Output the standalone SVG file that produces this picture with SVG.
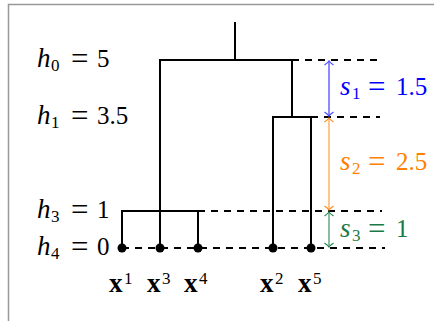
<svg xmlns="http://www.w3.org/2000/svg" width="434" height="321" viewBox="0 0 434 321">
<style>
.t{font-family:"Liberation Serif","DejaVu Serif",serif;font-size:25px;fill:#000}
.it{font-style:italic;font-size:27px}
.sub{font-size:17px}
.eq{font-size:31px}
.bx{font-weight:bold;font-size:27px}
.sup{font-size:17px;font-weight:normal}
.ln{stroke:#000;stroke-width:2;fill:none}
.dash{stroke:#000;stroke-width:2;stroke-dasharray:7 6;fill:none}
.dot{fill:#000}
</style>
<defs>
<marker id="mb" viewBox="-6 -6 8 12" markerWidth="8" markerHeight="12" refX="0" refY="0" orient="auto-start-reverse" markerUnits="userSpaceOnUse"><path d="M-4,-4.5 Q-1.5,-1 0,0 Q-1.5,1 -4,4.5" fill="none" stroke="#4d4dff" stroke-width="1.3"/></marker>
<marker id="mo" viewBox="-6 -6 8 12" markerWidth="8" markerHeight="12" refX="0" refY="0" orient="auto-start-reverse" markerUnits="userSpaceOnUse"><path d="M-4,-4.5 Q-1.5,-1 0,0 Q-1.5,1 -4,4.5" fill="none" stroke="#ff8c1a" stroke-width="1.3"/></marker>
<marker id="mg" viewBox="-6 -6 8 12" markerWidth="8" markerHeight="12" refX="0" refY="0" orient="auto-start-reverse" markerUnits="userSpaceOnUse"><path d="M-4,-4.5 Q-1.5,-1 0,0 Q-1.5,1 -4,4.5" fill="none" stroke="#2e8b5a" stroke-width="1.3"/></marker>
</defs>
<path d="M8.5,321 V4.5 H434" fill="none" stroke="#999" stroke-width="1.5"/>
<g id="levels">
<text class="t" y="67"><tspan x="37" class="it">h</tspan><tspan x="51" dy="4" class="sub">0</tspan><tspan x="71" dy="-2.5" class="eq">=</tspan><tspan x="97" dy="-1.5">5</tspan></text>
<text class="t" y="124"><tspan x="37" class="it">h</tspan><tspan x="51" dy="4" class="sub">1</tspan><tspan x="71" dy="-2.5" class="eq">=</tspan><tspan x="97" dy="-1.5">3.5</tspan></text>
<text class="t" y="218"><tspan x="37" class="it">h</tspan><tspan x="51" dy="4" class="sub">3</tspan><tspan x="71" dy="-2.5" class="eq">=</tspan><tspan x="97" dy="-1.5">1</tspan></text>
<text class="t" y="255"><tspan x="37" class="it">h</tspan><tspan x="51" dy="4" class="sub">4</tspan><tspan x="71" dy="-2.5" class="eq">=</tspan><tspan x="97" dy="-1.5">0</tspan></text>
</g>
<g id="connectors">
<path class="dash" d="M292,60 H380 M311,117 H380 M198,211 H382 M122,248 H385"/>
<path class="ln" d="M160,248 V60 H292 V117 M273,248 V117 H311 V248 M122,248 V211 H198 V248"/>
</g>
<g id="root"><path class="ln" d="M235,22 V60"/></g>
<g id="x1"><circle class="dot" cx="122" cy="248" r="4.5"/><text class="t bx" y="292"><tspan x="109">x</tspan><tspan x="124" dy="-8" class="sup">1</tspan></text></g>
<g id="x3"><circle class="dot" cx="160" cy="248" r="4.5"/><text class="t bx" y="292"><tspan x="147">x</tspan><tspan x="162" dy="-8" class="sup">3</tspan></text></g>
<g id="x4"><circle class="dot" cx="198" cy="248" r="4.5"/><text class="t bx" y="292"><tspan x="184">x</tspan><tspan x="199" dy="-8" class="sup">4</tspan></text></g>
<g id="x2"><circle class="dot" cx="273" cy="248" r="4.5"/><text class="t bx" y="292"><tspan x="260">x</tspan><tspan x="275" dy="-8" class="sup">2</tspan></text></g>
<g id="x5"><circle class="dot" cx="311" cy="248" r="4.5"/><text class="t bx" y="292"><tspan x="298">x</tspan><tspan x="313" dy="-8" class="sup">5</tspan></text></g>
<g id="s1">
<path d="M329,61 V116" stroke="#4d4dff" stroke-width="1.3" marker-start="url(#mb)" marker-end="url(#mb)"/>
<text class="t" y="95" style="fill:#0000ff"><tspan x="340" class="it">s</tspan><tspan x="352" dy="4" class="sub">1</tspan><tspan x="368" dy="-2.5" class="eq">=</tspan><tspan x="396" dy="-1.5">1.5</tspan></text>
</g>
<g id="s2">
<path d="M329,118 V210" stroke="#ffa64d" stroke-width="1.3" marker-start="url(#mo)" marker-end="url(#mo)"/>
<text class="t" y="170" style="fill:#ff8000"><tspan x="340" class="it">s</tspan><tspan x="352" dy="4" class="sub">2</tspan><tspan x="368" dy="-2.5" class="eq">=</tspan><tspan x="396" dy="-1.5">2.5</tspan></text>
</g>
<g id="s3">
<path d="M329,212 V247" stroke="#4d9a72" stroke-width="1.3" marker-start="url(#mg)" marker-end="url(#mg)"/>
<text class="t" y="237" style="fill:#1a7a46"><tspan x="340" class="it">s</tspan><tspan x="352" dy="4" class="sub">3</tspan><tspan x="368" dy="-2.5" class="eq">=</tspan><tspan x="396" dy="-1.5">1</tspan></text>
</g>
</svg>
